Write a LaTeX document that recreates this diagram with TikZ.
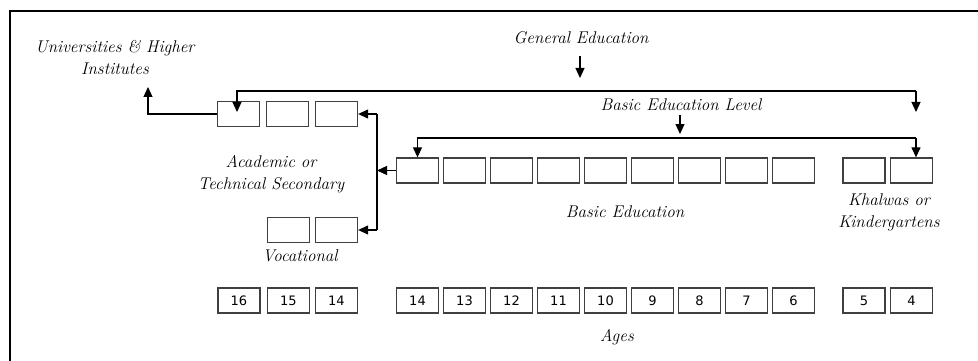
\documentclass[tikz,border=0pt]{standalone}
\usepackage{fontspec}
\newfontfamily\numfont{DejaVu Sans}
\usetikzlibrary{arrows.meta}
\begin{document}
\begin{tikzpicture}[x=1pt,y=-1pt,
  conn/.style={line width=1.2pt,draw=black},
  arr/.style={conn,-{Triangle[length=10pt,width=9pt]}},
  cell/.style={draw=black!75,line width=1.3pt,minimum width=42pt,minimum height=25pt,inner sep=0pt},
  agecell/.style={cell,font=\numfont\fontsize{13}{15}\selectfont},
  lab/.style={font=\itshape\fontsize{17}{22}\selectfont\addfontfeatures{LetterSpace=3},align=center,inner sep=0pt}]
\useasboundingbox (0,0) rectangle (978,361);
% frame
\draw[line width=1.6pt] (10,361) -- (10,11) -- (978,11);
% labels
\node[lab] (univ) at (115,58) {Universities \& Higher\\Institutes};
\node[lab] (gen) at (581,38) {General Education};
\node[lab] (bel) at (681,105) {Basic Education Level};
\node[lab] (acad) at (271,174) {Academic or\\Technical Secondary};
\node[lab] (voc) at (300,256) {Vocational};
\node[lab] (basic) at (625,212) {Basic Education};
\node[lab] (khal) at (889,212) {Khalwas or\\Kindergartens};
\node[lab] (ages) at (617,337) {Ages};
% secondary boxes
\node[cell] (s1) at (238.5,114) {};
\node[cell] (s2) at (287.5,114) {};
\node[cell] (s3) at (336.5,114) {};
% vocational boxes
\node[cell] (v1) at (288.5,230) {};
\node[cell] (v2) at (336.5,230) {};
% basic boxes
\foreach \i in {1,...,9} {
  \node[cell] (b\i) at ({417.5+47*(\i-1)},170.5) {};
}
% kindergarten boxes
\node[cell] (k1) at (864,170.5) {};
\node[cell] (k2) at (911.5,170.5) {};
% ages
\node[agecell] (a16) at (239,300.5) {16};
\node[agecell] (a15) at (288.5,300.5) {15};
\node[agecell] (a14s) at (336.5,300.5) {14};
\foreach \n [count=\i from 0] in {14,13,12,11,10,9,8,7,6} {
  \node[agecell] (ab\n) at ({417.5+47*\i},300.5) {\n};
}
\node[agecell] (a5) at (864,300.5) {5};
\node[agecell] (a4) at (911.5,300.5) {4};
% coordinates
\coordinate (gtop) at (580,56);
\coordinate (gtip) at (580,78);
\coordinate (gl) at (237,91);
\coordinate (gr) at (916,91);
\coordinate (grt) at (916,112);
\coordinate (utip) at (148,87);
\coordinate (jt) at (377,114);
\coordinate (jb) at (377,230);
\coordinate (btop) at (680,115);
\coordinate (btip) at (680,134);
\coordinate (bl) at (417.5,138);
\coordinate (br) at (916,138);
% connectors
\draw[arr] (gtop) -- (gtip);
\draw[arr] (gr) -- (gl) -- (gl |- grt);
\draw[arr] (gr) -- (grt);
\draw[arr] (s1.west) -| (utip);
\draw[conn] (jt) -- (jb);
\draw[arr] (jt) -- (s3.east);
\draw[arr] (jb) -- (v2.east);
\draw[arr] (b1.west) -- (b1.west -| jt);
\draw[arr] (btop) -- (btip);
\draw[arr] (br) -- (bl) -- (b1.north);
\draw[arr] (br) -- (br |- k2.north);
\end{tikzpicture}
\end{document}
